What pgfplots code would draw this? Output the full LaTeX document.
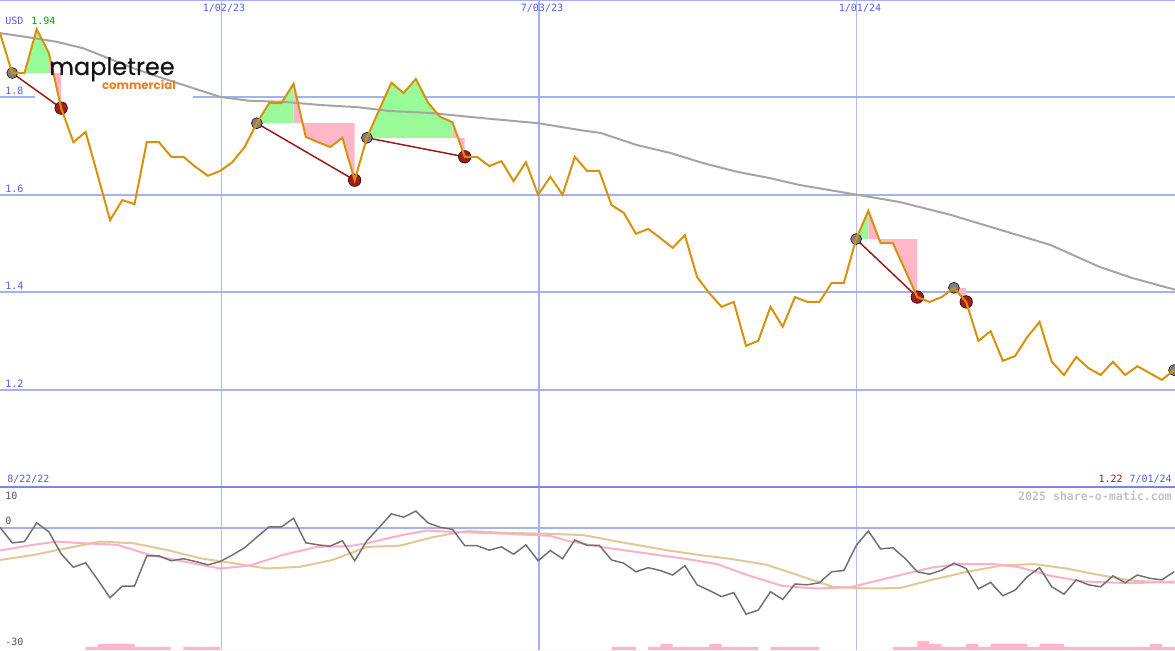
\documentclass[border=0pt]{standalone}
\usepackage{fontspec}
\usepackage{pgfplots}
\pgfplotsset{compat=1.18}
\newfontfamily\mono{DejaVu Sans Mono}
\newfontfamily\logofont{Poppins}[FakeBold=0.4]
\newfontfamily\logofontB{Poppins}
\definecolor{priceC}{RGB}{215,145,10}
\definecolor{maC}{RGB}{165,165,165}
\definecolor{greenF}{RGB}{152,251,152}
\definecolor{pinkF}{RGB}{255,182,200}
\definecolor{redD}{RGB}{165,28,28}
\definecolor{redL}{RGB}{160,20,20}
\definecolor{grayD}{RGB}{128,128,128}
\definecolor{gridC}{RGB}{165,178,242}
\definecolor{gridT}{RGB}{178,186,242}
\definecolor{sepC}{RGB}{120,135,235}
\definecolor{labC}{RGB}{80,90,240}
\definecolor{oscC}{RGB}{112,112,112}
\definecolor{pinkL}{RGB}{255,175,200}
\definecolor{tanL}{RGB}{225,200,150}
\definecolor{logoO}{RGB}{235,125,35}

\pgfplotstableread{
i p
0 1.932
1 1.850
2 1.850
3 1.940
4 1.891
5 1.778
6 1.708
7 1.729
8 1.639
9 1.548
10 1.589
11 1.581
12 1.708
13 1.708
14 1.678
15 1.678
16 1.657
17 1.639
18 1.649
19 1.667
20 1.698
21 1.747
22 1.788
23 1.788
24 1.828
25 1.719
26 1.708
27 1.698
28 1.717
29 1.630
30 1.717
31 1.774
32 1.830
33 1.809
34 1.838
35 1.789
36 1.760
37 1.749
38 1.678
39 1.678
40 1.659
41 1.669
42 1.628
43 1.667
44 1.600
45 1.637
46 1.600
47 1.678
48 1.649
49 1.649
50 1.579
51 1.563
52 1.520
53 1.530
54 1.511
55 1.491
56 1.517
57 1.431
58 1.398
59 1.370
60 1.380
61 1.290
62 1.300
63 1.370
64 1.329
65 1.390
66 1.380
67 1.380
68 1.419
69 1.419
70 1.509
71 1.567
72 1.501
73 1.501
74 1.446
75 1.390
76 1.380
77 1.390
78 1.409
79 1.380
80 1.300
81 1.320
82 1.259
83 1.269
84 1.308
85 1.339
86 1.257
87 1.230
88 1.267
89 1.244
90 1.230
91 1.257
92 1.230
93 1.248
94 1.234
95 1.220
96 1.240
}\price

\pgfplotstableread{
i m
0 1.932
2.7 1.922
4.66 1.914
6.8 1.901
8.2 1.887
10.9 1.860
13.7 1.836
15.8 1.819
18.0 1.801
20.4 1.793
23.1 1.791
26.4 1.784
29.2 1.780
31.9 1.772
35.2 1.768
39.2 1.758
44.0 1.747
47.4 1.733
49.1 1.727
52.1 1.702
54.8 1.686
57.5 1.665
60.3 1.647
63.0 1.634
65.4 1.620
70.1 1.600
73.6 1.585
77.7 1.559
81.8 1.528
85.9 1.497
89.9 1.452
92.6 1.429
96.1 1.405
}\mavg

\pgfplotstableread{
i v
0 0.1
1 -3.7
2 -3.4
3 1.2
4 -1.0
5 -6.4
6 -9.7
7 -8.6
8 -12.8
9 -17.2
10 -14.3
11 -14.3
12 -6.9
13 -6.9
14 -8.1
15 -7.6
16 -8.3
17 -9.1
18 -8.3
19 -6.7
20 -4.9
21 -2.3
22 0.2
23 0.2
24 2.3
25 -3.7
26 -4.2
27 -4.5
28 -3.2
29 -8.1
30 -3.2
31 0.1
32 3.4
33 2.6
34 4.1
35 1.2
36 0.1
37 -0.4
38 -4.4
39 -4.4
40 -5.5
41 -4.7
42 -6.5
43 -4.2
44 -8.1
45 -5.6
46 -7.6
47 -3.0
48 -4.3
49 -4.3
50 -7.9
51 -8.7
52 -10.8
53 -9.8
54 -10.5
55 -11.6
56 -9.3
57 -14.0
58 -15.4
59 -16.9
60 -15.9
61 -21.2
62 -20.2
63 -15.7
64 -17.6
65 -13.8
66 -14.0
67 -13.5
68 -10.8
69 -10.5
70 -4.4
71 -0.8
72 -5.2
73 -4.9
74 -7.5
75 -10.8
76 -11.4
77 -10.4
78 -8.7
79 -10.0
80 -15.0
81 -13.4
82 -16.7
83 -15.3
84 -12.0
85 -9.8
86 -14.5
87 -16.3
88 -12.8
89 -14.0
90 -14.5
91 -11.8
92 -13.5
93 -11.6
94 -12.4
95 -12.8
96 -10.8
}\osc

\pgfplotstableread{
i v
0 -5.6
2.7 -4.2
4.66 -3.4
6.8 -3.8
9.6 -4.2
12.3 -6.7
15.0 -8.3
18.0 -10.0
20.4 -9.3
23.1 -6.7
25.9 -4.7
28.6 -4.5
30.0 -3.8
32.7 -1.9
34.9 -0.7
36.8 -1.0
40.9 -1.4
45.0 -2.0
46.4 -3.2
49.1 -4.7
53.1 -6.4
55.8 -7.5
58.6 -8.9
61.3 -11.8
64.0 -14.3
66.8 -14.9
69.5 -14.6
70.9 -13.6
73.6 -11.6
76.3 -9.7
78.5 -8.9
81.2 -8.9
83.2 -9.6
85.9 -11.8
88.6 -13.2
92.6 -13.6
96.1 -13.2
}\pinkline

\pgfplotstableread{
i v
0 -7.9
2.7 -6.7
4.66 -5.5
8.2 -3.4
10.9 -3.8
13.7 -5.5
16.4 -7.5
19.1 -8.7
21.8 -10.0
24.5 -9.6
27.2 -7.9
30.0 -4.7
32.7 -4.4
35.4 -2.3
38.2 -0.8
40.9 -1.2
45.0 -1.5
47.7 -1.8
50.5 -3.4
54.5 -5.5
57.2 -6.7
59.9 -7.7
62.7 -9.1
65.4 -11.8
68.1 -14.5
70.9 -14.9
73.6 -14.8
76.3 -12.7
79.1 -10.8
81.8 -9.3
84.5 -8.9
87.2 -10.0
89.9 -11.6
92.6 -13.0
96.1 -13.5
}\tanline

\begin{document}
\begin{tikzpicture}
\path[use as bounding box] (0pt,0pt) rectangle (881.25pt,487.5pt);
% ---------------- main price panel ----------------
\begin{axis}[
  at={(0pt,122.25pt)}, anchor=south west, scale only axis,
  width=881.25pt, height=365.25pt,
  xmin=0, xmax=96.075, ymin=1, ymax=2,
  axis line style={draw=none}, major tick length=0pt,
  xtick={18.07,70.07}, ytick={1.2,1.4,1.6,1.8},
  xticklabels={}, yticklabels={},
  xmajorgrids, ymajorgrids,
  x grid style={gridT, line width=0.7pt},
  y grid style={gridC, line width=1.5pt},
  clip mode=individual,
]
\draw[gridC, line width=1.6pt] (axis cs:44.07,1) -- (axis cs:44.07,2);
\draw[gridC, line width=1.2pt] (rel axis cs:0,1) -- (rel axis cs:1,1);
\fill[white] (axis cs:2.86,1.887) rectangle (axis cs:15.78,1.795);
% green gain areas
\addplot[fill=greenF, draw=none] coordinates {(1,1.850) (2,1.850) (3,1.940) (4,1.891) (4,1.850)} -- cycle;
\addplot[fill=greenF, draw=none] coordinates {(21,1.747) (22,1.788) (23,1.788) (24,1.828) (24,1.747)} -- cycle;
\addplot[fill=greenF, draw=none] coordinates {(30,1.717) (31,1.774) (32,1.830) (33,1.809) (34,1.838) (35,1.789) (36,1.760) (37,1.749) (37,1.717)} -- cycle;
\addplot[fill=greenF, draw=none] coordinates {(70,1.509) (71,1.567) (71,1.509)} -- cycle;
% pink loss areas
\addplot[fill=pinkF, draw=none] coordinates {(4,1.850) (4,1.891) (5,1.778) (5,1.850)} -- cycle;
\addplot[fill=pinkF, draw=none] coordinates {(24,1.747) (24,1.828) (25,1.719) (26,1.708) (27,1.698) (28,1.717) (29,1.630) (29,1.747)} -- cycle;
\addplot[fill=pinkF, draw=none] coordinates {(37,1.717) (37,1.749) (38,1.678) (38,1.717)} -- cycle;
\addplot[fill=pinkF, draw=none] coordinates {(71,1.509) (71,1.567) (72,1.501) (73,1.501) (74,1.446) (75,1.390) (75,1.509)} -- cycle;
\addplot[fill=pinkF, draw=none] coordinates {(78,1.409) (79,1.380) (79,1.409)} -- cycle;
% moving average
\addplot[maC, line width=1.5pt] table[x=i, y=m] {\mavg};
% trade connection lines
\addplot[redL, line width=1.1pt] coordinates {(1,1.850) (5,1.778)};
\addplot[redL, line width=1.1pt] coordinates {(21,1.747) (29,1.630)};
\addplot[redL, line width=1.1pt] coordinates {(30,1.717) (38,1.678)};
\addplot[redL, line width=1.1pt] coordinates {(70,1.509) (75,1.390)};
\addplot[redL, line width=1.1pt] coordinates {(78,1.409) (79,1.380)};
% entry / exit dots
\addplot[only marks, mark=*, mark size=4.1pt, mark options={fill=grayD, draw=none}] coordinates {(1,1.850) (21,1.747) (30,1.717) (70,1.509) (78,1.409) (96,1.240)};
\addplot[only marks, mark=*, mark size=4.7pt, mark options={fill=redD, draw=none}] coordinates {(5,1.778) (29,1.630) (38,1.678) (75,1.390) (79,1.380)};
% price
\addplot[priceC, line width=1.5pt] table[x=i, y=p] {\price};
\end{axis}

% ---------------- lower indicator panel ----------------
\begin{axis}[
  at={(0pt,0pt)}, anchor=south west, scale only axis,
  width=881.25pt, height=122.25pt,
  xmin=0, xmax=96.075, ymin=-30, ymax=10,
  axis line style={draw=none}, major tick length=0pt,
  xtick={18.07,70.07}, ytick={0},
  xticklabels={}, yticklabels={},
  xmajorgrids, ymajorgrids,
  x grid style={gridT, line width=0.7pt},
  y grid style={gridC, line width=1.5pt},
  clip mode=individual,
]
\draw[gridC, line width=1.6pt] (axis cs:44.07,-30) -- (axis cs:44.07,10);
\draw[sepC, line width=1.6pt] (rel axis cs:0,1) -- (rel axis cs:1,1);
\addplot[tanL, line width=1.5pt] table[x=i, y=v] {\tanline};
\addplot[pinkL, line width=1.5pt] table[x=i, y=v] {\pinkline};
\addplot[oscC, line width=1.1pt] table[x=i, y=v] {\osc};
\end{axis}

% ---------------- volume-like bars ----------------
\begin{axis}[
  at={(0pt,0pt)}, anchor=south west, scale only axis,
  width=881.25pt, height=122.25pt,
  xmin=0, xmax=96.075, ymin=0, ymax=163, hide axis,
]
\addplot[fill=pinkF, draw=none, const plot] coordinates {
(7,3) (8,6) (9,6) (10,6) (11,3) (12,3) (13,3) (14,0) (15,3) (16,3) (17,3) (18,0)
(49,0) (50,3) (51,3) (52,0) (53,3) (54,6) (55,3) (56,3) (57,3) (58,6) (59,3) (60,3) (61,3) (62,0)
(63,3) (64,3) (65,3) (66,3) (67,0) (72,0) (73,3) (74,3) (75,9) (76,6) (77,3) (78,3) (79,6) (80,3)
(81,6) (82,6) (83,6) (84,3) (85,6) (86,6) (87,3) (88,3) (89,3) (90,3) (91,3) (92,3) (93,3)
(94,6) (95,3) (96.1,3)} \closedcycle;
\end{axis}

% ---------------- texts (pixel coordinates, y downward) ----------------
\begin{scope}[x=0.75pt, y=-0.75pt, shift={(0pt,487.5pt)}]
\tikzset{lab/.style={inner sep=0pt, font=\mono\fontsize{7.5pt}{9pt}\selectfont}}
\node[lab, anchor=west, text=labC] at (5,21) {USD};
\node[lab, anchor=west, text={rgb,255:red,20;green,150;blue,20}] at (31,21) {1.94};
\node[lab, anchor=west, text=labC] at (5,91) {1.8};
\node[lab, anchor=west, text=labC] at (5,188.5) {1.6};
\node[lab, anchor=west, text=labC] at (5,286) {1.4};
\node[lab, anchor=west, text=labC] at (5,383.5) {1.2};
\node[lab, text=labC] at (224,8) {1/02/23};
\node[lab, text=labC] at (542,8) {7/03/23};
\node[lab, text=labC] at (860,8) {1/01/24};
\node[lab, anchor=west, text=labC] at (7,479) {8/22/22};
\node[lab, anchor=east, text=redL] at (1123,479) {1.22};
\node[lab, anchor=east, text=labC] at (1172,479) {7/01/24};
\node[lab, anchor=west, text={rgb,255:red,85;green,85;blue,85}] at (5,496) {10};
\node[lab, anchor=west, text={rgb,255:red,85;green,85;blue,85}] at (5,521) {0};
\node[lab, anchor=west, text={rgb,255:red,85;green,85;blue,85}] at (5,642) {-30};
\node[inner sep=0pt, anchor=east, text={rgb,255:red,195;green,195;blue,195}, font=\mono\bfseries\fontsize{8.7pt}{10pt}\selectfont] at (1172,496) {2025 share-o-matic.com};
\node[inner sep=0pt, anchor=base west, text={rgb,255:red,20;green,20;blue,20}, font=\logofont\fontsize{18pt}{20pt}\selectfont] at (49,75) {mapletree};
\node[inner sep=0pt, anchor=base east, text=logoO, font=\logofontB\bfseries\fontsize{8.8pt}{11pt}\selectfont] at (176,90) {commercial};
\end{scope}
\end{tikzpicture}
\end{document}
